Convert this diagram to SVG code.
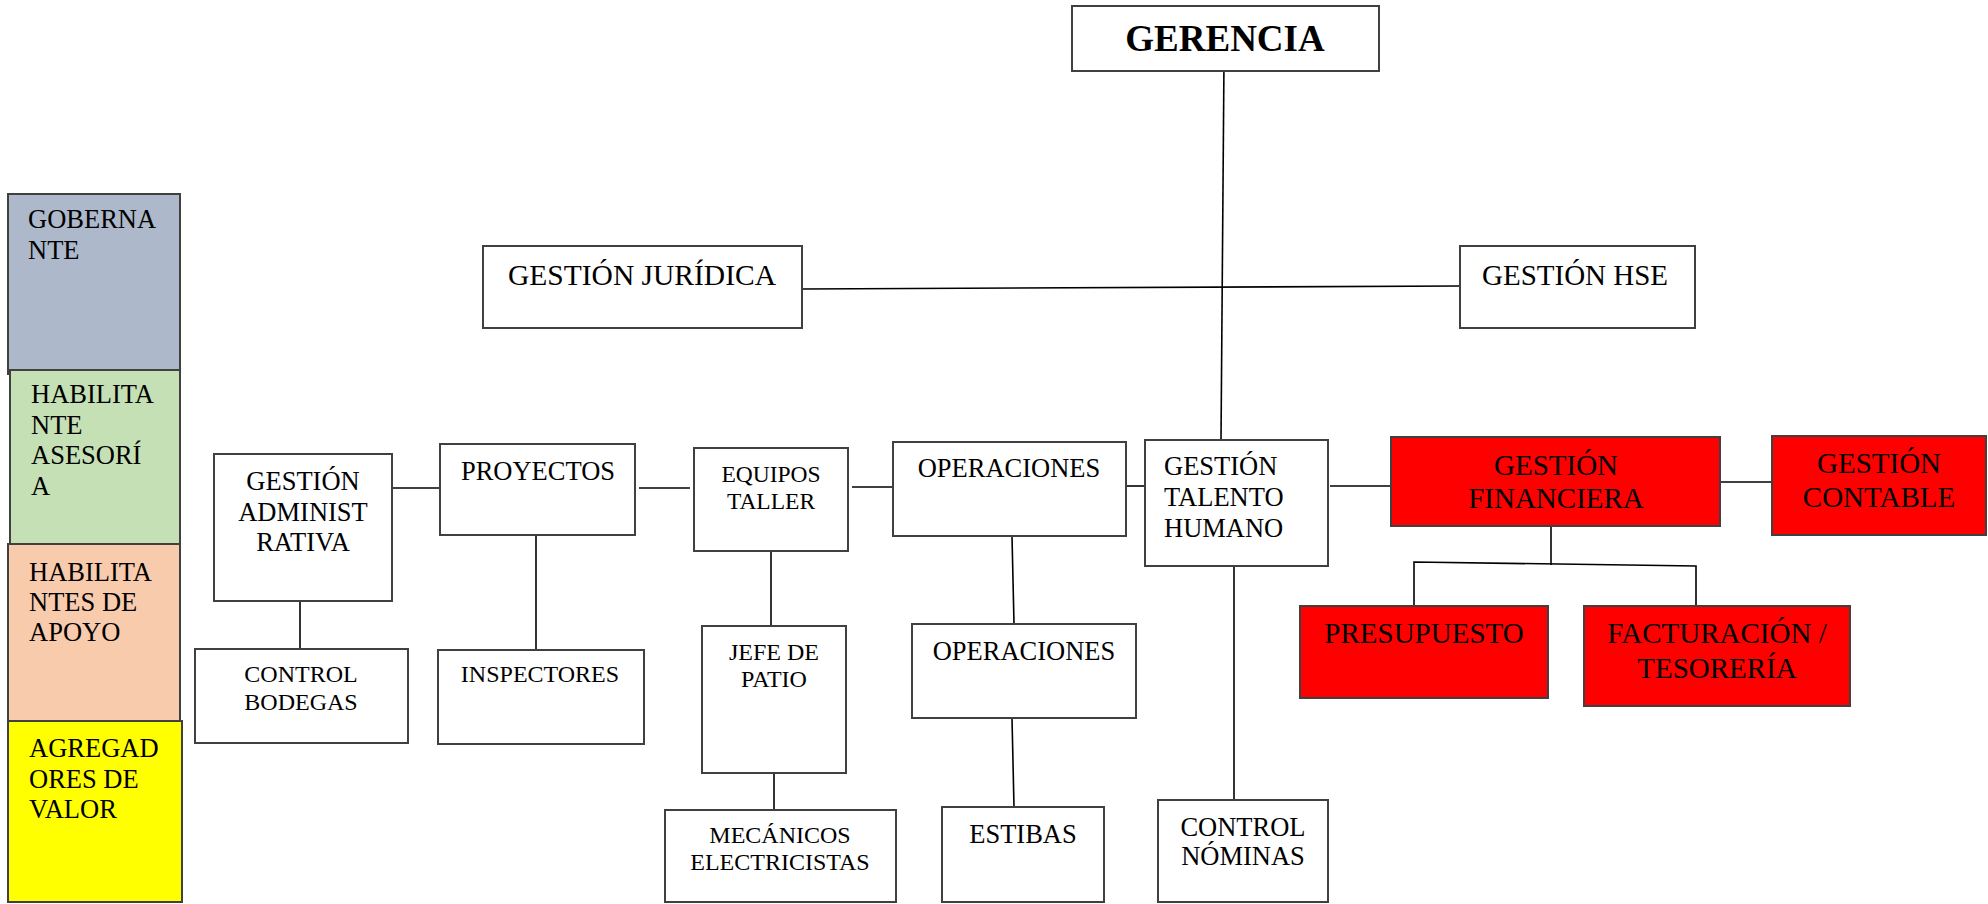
<svg xmlns="http://www.w3.org/2000/svg" width="1988" height="904" viewBox="0 0 1988 904">
<style>
.b{fill:#fff;stroke:#404040;stroke-width:2}
.r{fill:#ff0000;stroke:#404040;stroke-width:2}
.t{font-family:"Liberation Serif","Times New Roman",serif;font-size:26.5px;fill:#000}
.s{font-size:24px}
.m{font-size:29.5px}
.c{text-anchor:middle}
.k{fill:none;stroke:#000;stroke-width:1.6}
</style>
<rect width="1988" height="904" fill="#fff"/>
<g id="legend">
<g id="gobernante"><rect x="8" y="194" width="172" height="180" fill="#adb9ca" stroke="#404040" stroke-width="2"/>
<text class="t" x="28" y="228">GOBERNA</text><text class="t" x="28" y="259">NTE</text></g>
<g id="habilitante-asesoria"><rect x="10" y="370" width="170" height="174" fill="#c5e0b4" stroke="#404040" stroke-width="2"/>
<text class="t" x="31" y="403">HABILITA</text><text class="t" x="31" y="434">NTE</text><text class="t" x="31" y="464">ASESORÍ</text><text class="t" x="31" y="495">A</text></g>
<g id="habilitantes-apoyo"><rect x="8" y="544" width="172" height="177" fill="#f8cbad" stroke="#404040" stroke-width="2"/>
<text class="t" x="29" y="581">HABILITA</text><text class="t" x="29" y="611">NTES DE</text><text class="t" x="29" y="641">APOYO</text></g>
<g id="agregadores"><rect x="8" y="721" width="174" height="181" fill="#ffff00" stroke="#404040" stroke-width="2"/>
<text class="t" x="29" y="757">AGREGAD</text><text class="t" x="29" y="788">ORES DE</text><text class="t" x="29" y="818">VALOR</text></g>
</g>
<g id="connectors">
<path class="k" d="M1224 60 L1221 440"/>
<path class="k" d="M802 289 L1460 286"/>
<path class="k" d="M392 488 L445 488"/>
<path class="k" d="M639 488 L690 488"/>
<path class="k" d="M852 487 L894 487"/>
<path class="k" d="M1126 486 L1148 486"/>
<path class="k" d="M1330 486 L1391 486"/>
<path class="k" d="M1720 482 L1780 482"/>
<path class="k" d="M1551 523 L1551 565"/>
<path class="k" d="M1414 606 L1414 562 L1696 566 L1696 606"/>
<path class="k" d="M300 597 L300 649"/>
<path class="k" d="M536 526 L536 653"/>
<path class="k" d="M771 546 L771 626"/>
<path class="k" d="M774 773 L774 810"/>
<path class="k" d="M1012 536 L1014 624"/>
<path class="k" d="M1012 718 L1014 807"/>
<path class="k" d="M1234 566 L1234 800"/>
</g>
<g id="gerencia"><rect class="b" x="1072" y="6" width="307" height="65"/>
<text class="t c" x="1225" y="51" style="font-size:37px;font-weight:bold">GERENCIA</text></g>
<g id="juridica"><rect class="b" x="483" y="246" width="319" height="82"/>
<text class="t m" x="508" y="285">GESTIÓN JURÍDICA</text></g>
<g id="hse"><rect class="b" x="1460" y="246" width="235" height="82"/>
<text class="t m" x="1482" y="285" style="font-size:29px">GESTIÓN HSE</text></g>
<g id="administrativa"><rect class="b" x="214" y="454" width="178" height="147"/>
<text class="t c" x="303" y="490">GESTIÓN</text><text class="t c" x="303" y="521">ADMINIST</text><text class="t c" x="303" y="551">RATIVA</text></g>
<g id="proyectos"><rect class="b" x="440" y="444" width="195" height="91"/>
<text class="t c" x="538" y="480">PROYECTOS</text></g>
<g id="equipos"><rect class="b" x="694" y="448" width="154" height="103"/>
<text class="t c s" x="771" y="482" style="font-size:23.5px">EQUIPOS</text><text class="t c s" x="771" y="509" style="font-size:23.5px">TALLER</text></g>
<g id="operaciones1"><rect class="b" x="893" y="442" width="233" height="94"/>
<text class="t c" x="1009" y="477">OPERACIONES</text></g>
<g id="talento"><rect class="b" x="1145" y="440" width="183" height="126"/>
<text class="t" x="1164" y="475">GESTIÓN</text><text class="t" x="1164" y="506">TALENTO</text><text class="t" x="1164" y="537">HUMANO</text></g>
<g id="financiera"><rect class="r" x="1391" y="437" width="329" height="89"/>
<text class="t c" x="1556" y="475" style="font-size:29px">GESTIÓN</text><text class="t c" x="1556" y="508" style="font-size:29px">FINANCIERA</text></g>
<g id="contable"><rect class="r" x="1772" y="436" width="214" height="99"/>
<text class="t c" x="1879" y="473" style="font-size:29px">GESTIÓN</text><text class="t c" x="1879" y="507" style="font-size:29px">CONTABLE</text></g>
<g id="presupuesto"><rect class="r" x="1300" y="606" width="248" height="92"/>
<text class="t c" x="1424" y="643" style="font-size:29px">PRESUPUESTO</text></g>
<g id="facturacion"><rect class="r" x="1584" y="606" width="266" height="100"/>
<text class="t c" x="1717" y="643" style="font-size:29px">FACTURACIÓN /</text><text class="t c" x="1717" y="678" style="font-size:29px">TESORERÍA</text></g>
<g id="bodegas"><rect class="b" x="195" y="649" width="213" height="94"/>
<text class="t c s" x="301" y="682">CONTROL</text><text class="t c s" x="301" y="710">BODEGAS</text></g>
<g id="inspectores"><rect class="b" x="438" y="650" width="206" height="94"/>
<text class="t c s" x="540" y="682">INSPECTORES</text></g>
<g id="jefe"><rect class="b" x="702" y="626" width="144" height="147"/>
<text class="t c s" x="774" y="660">JEFE DE</text><text class="t c s" x="774" y="687">PATIO</text></g>
<g id="mecanicos"><rect class="b" x="665" y="810" width="231" height="92"/>
<text class="t c s" x="780" y="843">MECÁNICOS</text><text class="t c s" x="780" y="870">ELECTRICISTAS</text></g>
<g id="operaciones2"><rect class="b" x="912" y="624" width="224" height="94"/>
<text class="t c" x="1024" y="660">OPERACIONES</text></g>
<g id="estibas"><rect class="b" x="942" y="807" width="162" height="95"/>
<text class="t c" x="1023" y="843">ESTIBAS</text></g>
<g id="nominas"><rect class="b" x="1158" y="800" width="170" height="102"/>
<text class="t c" x="1243" y="836">CONTROL</text><text class="t c" x="1243" y="865">NÓMINAS</text></g>
</svg>
